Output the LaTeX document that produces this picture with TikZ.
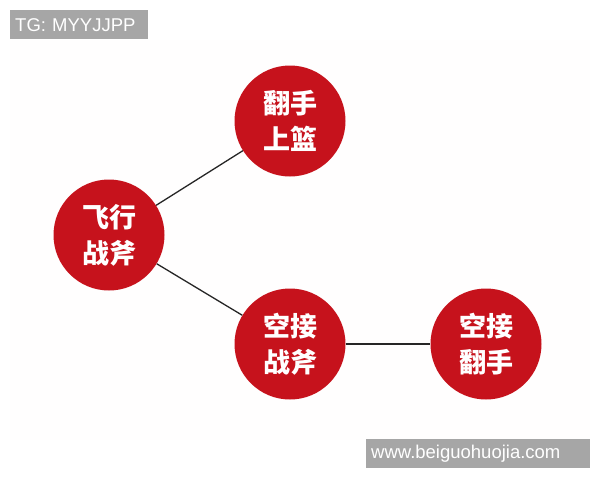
\documentclass[tikz,border=0pt]{standalone}
\usepackage{fontspec}
\setmainfont{Liberation Sans}
\newfontfamily\cjk{Noto Sans CJK SC}
\usetikzlibrary{positioning}
\definecolor{moveRed}{RGB}{198,18,28}
\definecolor{tagGray}{RGB}{166,166,166}
\tikzset{
  move/.style={circle,fill=moveRed,minimum size=111pt,inner sep=0,text=white,
    font=\cjk\bfseries\fontsize{27}{36}\selectfont,align=center},
  link/.style={line width=1.3pt,draw=black!85},
  tag/.style={fill=tagGray,text=white,font=\fontsize{18.5}{20}\selectfont,
    inner ysep=0,inner xsep=5pt,minimum height=29pt,anchor=north west,align=left}
}

\begin{document}
\begin{tikzpicture}[x=1pt,y=-1pt]
    \useasboundingbox (0,0) rectangle (600,480);
    % Background panel
    \fill[white!98!pink] (10,40) rectangle (590,440);

    % Moves
    \node[move] (fx) at (109,235) {飞行\\战斧};
    \node[move] (fs) at (290,121) {翻手\\上篮};
    \node[move] (kz) at (290,344) {空接\\战斧};
    \node[move] (kf) at (486,344) {空接\\翻手};

    % Links between moves
    \draw[link] (fx) -- (fs);
    \draw[link] (fx) -- (kz);
    \draw[link] (kz) -- (kf);

    % Watermarks
    \node[tag,text width=128pt] (tg) at (10,10) {TG: MYYJJPP};
    \node[tag,text width=214pt] (web) at (366,439) {www.beiguohuojia.com};
\end{tikzpicture}
\end{document}
